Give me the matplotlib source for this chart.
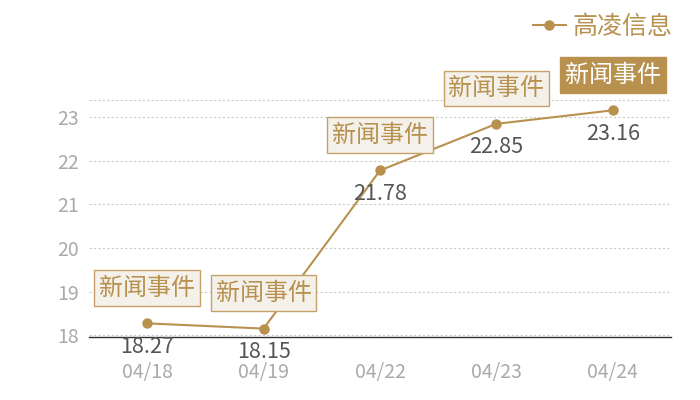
import matplotlib
matplotlib.use("Agg")
import matplotlib.pyplot as plt
from matplotlib.lines import Line2D

plt.rcParams['font.family'] = ['Noto Sans CJK SC', 'DejaVu Sans']

dates = ["04/18", "04/19", "04/22", "04/23", "04/24"]
values = [18.27, 18.15, 21.78, 22.85, 23.16]
event_labels = ["新闻事件", "新闻事件", "新闻事件", "新闻事件", "新闻事件"]
highlight = [False, False, False, False, True]
series_name = "高凌信息"
yticks = [18, 19, 20, 21, 22, 23]

gold = "#b8914f"
box_fill = "#f4f0ea"
box_edge = "#c6a26a"

fig = plt.figure(figsize=(7, 4), dpi=100)
ax = fig.add_axes([89/700, 62.7/400, (671-89)/700, (337.3-100.3)/400])

x = list(range(len(dates)))
ax.plot(x, values, color=gold, lw=1.5, marker='o', markersize=6.5, zorder=3)

ax.set_xlim(-0.5, len(dates) - 0.5)
ax.set_ylim(17.95, 23.39)
ax.set_yticks(yticks)
ax.set_xticks(x)
ax.set_xticklabels(dates)
ax.tick_params(axis='both', length=0, colors='#aaaaaa', labelsize=14)
ax.tick_params(axis='x', pad=18)
ax.tick_params(axis='y', pad=7)

for s in ['top', 'right', 'left']:
    ax.spines[s].set_visible(False)
ax.spines['bottom'].set_color('#333333')
ax.spines['bottom'].set_linewidth(1.0)

for t in yticks + [23.39]:
    ax.axhline(t, color='#cccccc', lw=0.8, ls=(0, (2, 2)), zorder=1)

for xi, v, lab, hl in zip(x, values, event_labels, highlight):
    ax.annotate(f"{v:.2f}", (xi, v), xytext=(0, -17), textcoords='offset points',
                ha='center', va='center', fontsize=15.5, color='#555555', zorder=4)
    if hl:
        bbox = dict(boxstyle='square,pad=0.2', fc=gold, ec=gold, lw=1)
        tc = 'white'
    else:
        bbox = dict(boxstyle='square,pad=0.2', fc=box_fill, ec=box_edge, lw=1)
        tc = gold
    ax.annotate(lab, (xi, v), xytext=(0, 25.5), textcoords='offset points',
                ha='center', va='center', fontsize=17.3, color=tc, bbox=bbox, zorder=5)

handle = Line2D([], [], color=gold, lw=1.5, marker='o', markersize=6.5)
fig.legend([handle], [series_name], loc='upper right', bbox_to_anchor=(0.99, 1.015),
           frameon=False, fontsize=18, labelcolor=gold, handlelength=1.3,
           handletextpad=0.3, borderpad=0.3)

fig.savefig("out.png", dpi=100)
